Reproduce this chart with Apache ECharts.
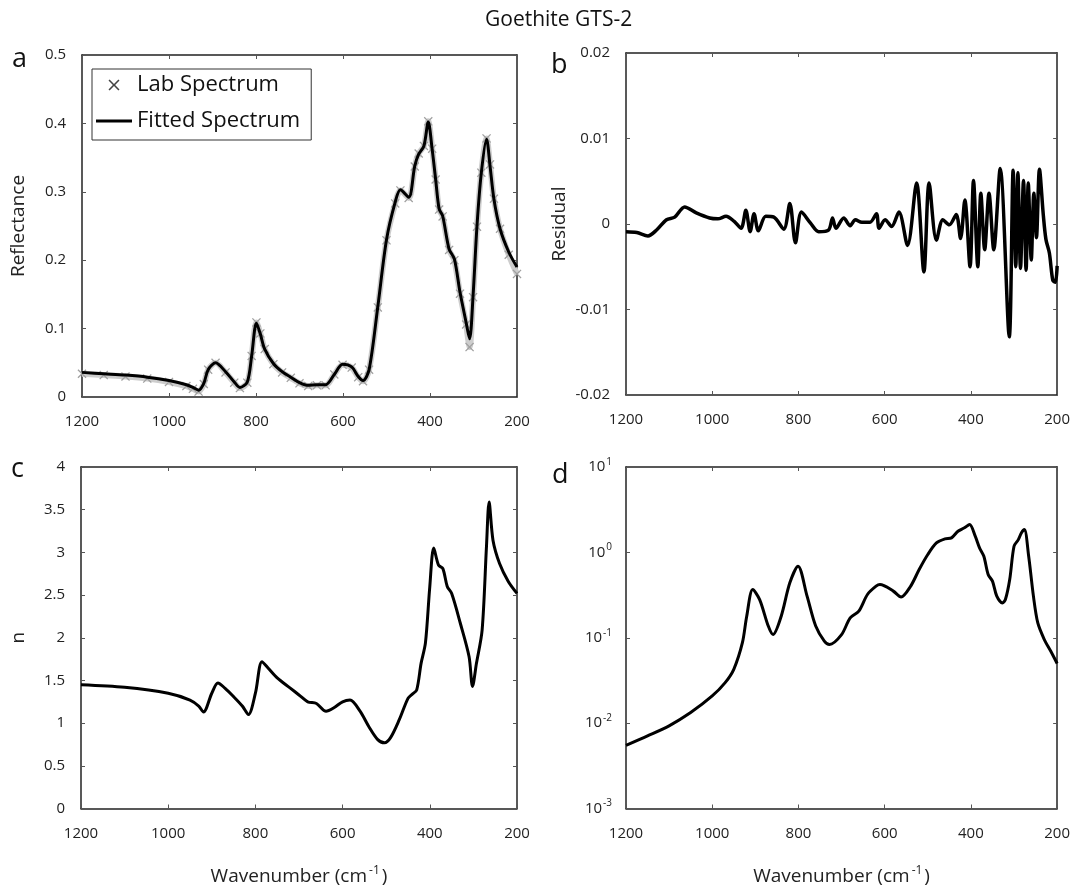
<!DOCTYPE html>
<html><head><meta charset="utf-8">
<script src="https://cdn.jsdelivr.net/npm/echarts@6/dist/echarts.min.js"></script>
<style>html,body{margin:0;padding:0;background:#fff}#c{width:1073px;height:887px}</style>
</head><body><div id="c"></div>
<script>
// ---------- data ----------
const chartTitle = 'Goethite GTS-2';
const panelLetters = ['a', 'b', 'c', 'd'];
const legendNames = ['Lab Spectrum', 'Fitted Spectrum'];

// panel a: reflectance
const waveA = [1200,1150,1100,1050,1000,960,945,932,920,910,893,870,850,837,820,810,799,790,780,760,740,720,700,680,660,640,620,601,580,565,554,540,520,500,480,468,449,435,426,414,404,395,387,379,371,356,344,331,317,309,301,292,282,270,262,253,239,219,200];
const reflFit = [0.036,0.034,0.032,0.029,0.024,0.018,0.014,0.010,0.020,0.040,0.050,0.037,0.022,0.014,0.022,0.060,0.108,0.092,0.070,0.049,0.037,0.029,0.021,0.017,0.018,0.018,0.033,0.048,0.044,0.030,0.024,0.040,0.132,0.230,0.285,0.303,0.292,0.338,0.355,0.367,0.402,0.362,0.318,0.275,0.265,0.216,0.202,0.153,0.109,0.085,0.148,0.250,0.328,0.377,0.338,0.289,0.246,0.212,0.190];
const reflLab = [0.034,0.032,0.030,0.027,0.022,0.016,0.012,0.008,0.019,0.040,0.050,0.036,0.021,0.013,0.021,0.060,0.109,0.093,0.070,0.048,0.036,0.028,0.020,0.016,0.017,0.017,0.033,0.047,0.043,0.029,0.023,0.040,0.131,0.229,0.283,0.302,0.291,0.337,0.356,0.367,0.403,0.363,0.318,0.274,0.264,0.215,0.200,0.151,0.106,0.073,0.146,0.249,0.328,0.378,0.340,0.290,0.246,0.208,0.180];

// panel b: residual
const waveR = [1200,1175,1149,1129,1106,1087,1064,1037,1006,987,968,949,933,922,912,903,893,876,857,834,820,807,793,772,753,730,721,713,695,680,668,653,634,619,613,599,584,567,547,526,509,497,480,465,450,434,424,414,402,394,384,377,368,358,347,332,311,302,296,291,285,278,272,267,260,254,248,241,232,226,218,210,204,200];
const resid = [-0.0009,-0.0010,-0.0014,-0.0007,0.0005,0.0008,0.0020,0.0013,0.0007,0.0006,0.0009,0.0003,-0.0005,0.0016,-0.0009,0.0012,-0.0008,0.0009,0.0008,-0.0006,0.0024,-0.0022,0.0014,0.0001,-0.0009,-0.0007,0.0007,-0.0005,0.0007,-0.0002,0.0005,0.0002,0.0002,0.0012,-0.0005,0.0005,-0.0003,0.0014,-0.0025,0.0048,-0.0056,0.0048,-0.0019,0.0005,-0.0001,0.0011,-0.0017,0.0028,-0.0050,0.0051,-0.0050,0.0036,-0.0030,0.0036,-0.0030,0.0065,-0.0132,0.0063,-0.0050,0.0060,-0.0052,0.0051,-0.0054,0.0048,-0.0042,0.0036,-0.0016,0.0064,0.0010,-0.0018,-0.0034,-0.0066,-0.0068,-0.0049];

// panel c: n
const waveN = [1200,1100,1000,950,930,919,900,886,870,850,830,816,800,785,770,750,720,700,680,660,638,620,600,583,560,540,520,504,490,470,450,440,430,420,410,400,391,380,370,360,350,330,310,302,293,280,270,264,255,240,220,200];
const nVals = [1.45,1.42,1.35,1.27,1.20,1.13,1.35,1.47,1.41,1.31,1.20,1.10,1.35,1.72,1.64,1.53,1.41,1.33,1.25,1.23,1.14,1.18,1.25,1.27,1.14,0.96,0.81,0.77,0.83,1.04,1.29,1.34,1.39,1.70,1.94,2.60,3.05,2.85,2.81,2.60,2.52,2.17,1.78,1.43,1.70,2.09,3.07,3.59,3.14,2.87,2.66,2.52];

// panel d: k (log)
const waveK = [1200,1150,1100,1050,1000,970,950,930,920,906,890,870,859,840,820,801,780,760,740,728,700,680,660,640,620,611,580,562,540,520,500,480,460,445,430,415,403,390,380,370,360,350,340,327,320,310,300,290,283,276,266,255,245,230,215,200];
const kVals = [0.0055,0.0071,0.0093,0.0133,0.0208,0.0298,0.0427,0.0875,0.179,0.367,0.28,0.137,0.109,0.179,0.44,0.689,0.307,0.137,0.0914,0.0835,0.109,0.171,0.205,0.321,0.402,0.42,0.352,0.30,0.40,0.63,0.944,1.29,1.44,1.48,1.77,1.94,2.12,1.55,1.13,0.90,0.55,0.46,0.307,0.256,0.28,0.48,1.18,1.41,1.69,1.85,0.90,0.307,0.15,0.096,0.070,0.050];

// axis ranges / tick labels
const xRange = {min: 200, max: 1200, interval: 200};
const yA = {min: 0, max: 0.5, interval: 0.1};
const yB = {min: -0.02, max: 0.02, interval: 0.01};
const yC = {min: 0, max: 4, interval: 0.5};
const yD = {min: 0.001, max: 10};
const yNames = ['Reflectance', 'Residual', 'n', ''];
const xName = 'Wavenumber (cm';
const xNameSup = '-1';

// ---------- chart ----------
const FONT = "'Open Sans', 'Noto Sans', sans-serif";
const pairs = (xs, ys) => xs.map((x, i) => [x, ys[i]]);
const X_PATH = 'path://M1,0L5,4L9,0L10,1L6,5L10,9L9,10L5,6L1,10L0,9L4,5L0,1Z';
const LINE_ICON = 'path://M0,0L36,0L36,3.2L0,3.2Z';

const grids = [
  {left: 82, top: 55, width: 435, height: 342},
  {left: 626, top: 53, width: 434, height: 342},
  {left: 81, top: 467, width: 436, height: 342},
  {left: 626, top: 467, width: 434, height: 342}
];
const yRanges = [yA, yB, yC, yD];
const yGaps = [54, 57, 53, 0];

const axisLine = {show: true, onZero: false, lineStyle: {color: '#222', width: 1.5}};
const tick = {show: true, inside: true, length: 4, lineStyle: {color: '#555', width: 1}};
const labelStyle = {fontFamily: FONT, fontSize: 15, color: '#222'};

const xAxes = [], yAxes = [];
grids.forEach((g, i) => {
  const xn = i >= 2 ? '{a|' + xName + '}{s|' + xNameSup + '}{a|)}' : '';
  xAxes.push({
    gridIndex: i, type: 'value', position: 'bottom', inverse: true,
    min: xRange.min, max: xRange.max, interval: xRange.interval,
    axisLine, axisTick: tick, splitLine: {show: false},
    axisLabel: Object.assign({margin: i >= 2 ? 18 : 17, formatter: v => String(v)}, labelStyle),
    name: xn, nameLocation: 'middle', nameGap: 56,
    nameTextStyle: {rich: {
      a: {fontFamily: FONT, fontSize: 19, color: '#222', lineHeight: 24},
      s: {fontFamily: FONT, fontSize: 12, color: '#222', verticalAlign: 'top', lineHeight: 24, padding: [0, 2, 0, 2]}
    }}
  });
  xAxes.push({
    gridIndex: i, type: 'value', position: 'top', inverse: true,
    min: xRange.min, max: xRange.max, interval: xRange.interval,
    axisLine, axisTick: tick, axisLabel: {show: false}, splitLine: {show: false}
  });
  const yr = yRanges[i];
  const isLog = i === 3;
  const base = {
    gridIndex: i, type: isLog ? 'log' : 'value', min: yr.min, max: yr.max,
    splitLine: {show: false}, axisLine, axisTick: tick
  };
  if (!isLog) base.interval = yr.interval; else base.logBase = 10;
  yAxes.push(Object.assign({}, base, {
    position: 'left',
    axisLabel: isLog ? {
      margin: 14,
      formatter: v => '{b|10}{e|' + Math.round(Math.log10(v)) + '}',
      rich: {
        b: {fontFamily: FONT, fontSize: 15, color: '#222', lineHeight: 20},
        e: {fontFamily: FONT, fontSize: 10, color: '#222', verticalAlign: 'top', lineHeight: 20, padding: [0, 0, 0, 1]}
      }
    } : Object.assign({margin: 16}, labelStyle),
    name: yNames[i], nameLocation: 'middle', nameGap: yGaps[i], nameRotate: 90,
    nameTextStyle: {fontFamily: FONT, fontSize: 19, color: '#222'}
  }));
  yAxes.push(Object.assign({}, base, {position: 'right', axisLabel: {show: false}}));
});

const option = {
  animation: false,
  backgroundColor: '#fff',
  title: [
    {text: chartTitle, left: 485, top: 10, padding: 0, textStyle: {fontFamily: FONT, fontSize: 21, fontWeight: 'normal', color: '#111'}},
    {text: panelLetters[0], left: 12, top: 46, padding: 0, textStyle: {fontFamily: FONT, fontSize: 27, fontWeight: 'normal', color: '#111'}},
    {text: panelLetters[1], left: 551, top: 52, padding: 0, textStyle: {fontFamily: FONT, fontSize: 27, fontWeight: 'normal', color: '#111'}},
    {text: panelLetters[2], left: 11, top: 456, padding: 0, textStyle: {fontFamily: FONT, fontSize: 27, fontWeight: 'normal', color: '#111'}},
    {text: panelLetters[3], left: 552, top: 462, padding: 0, textStyle: {fontFamily: FONT, fontSize: 27, fontWeight: 'normal', color: '#111'}}
  ],
  legend: {
    show: true, orient: 'vertical', left: 92, top: 69,
    data: [
      {name: legendNames[0], icon: X_PATH, itemStyle: {color: '#444'}},
      {name: legendNames[1], icon: LINE_ICON, itemStyle: {color: '#000'}}
    ],
    symbolKeepAspect: true,
    borderColor: '#333', borderWidth: 1, borderRadius: 0, padding: [5, 11, 8, 4],
    itemGap: 14, itemWidth: 36, itemHeight: 11, selectedMode: false,
    textStyle: {fontFamily: FONT, fontSize: 22, color: '#111'}
  },
  grid: grids,
  xAxis: xAxes,
  yAxis: yAxes,
  series: [
    {name: legendNames[0], type: 'line', xAxisIndex: 0, yAxisIndex: 0, data: pairs(waveA, reflLab),
      symbol: X_PATH, symbolSize: 9, showSymbol: true, showAllSymbol: true, smooth: 0.3,
      lineStyle: {width: 6, color: '#cdcdcd'}, itemStyle: {color: '#a0a0a0'}, z: 2, silent: true},
    {name: legendNames[1], type: 'line', xAxisIndex: 0, yAxisIndex: 0, data: pairs(waveA, reflFit),
      smooth: 0.3, symbol: 'none', showSymbol: false, lineStyle: {color: '#000', width: 3}, itemStyle: {color: '#000'}, z: 3, silent: true},
    {type: 'line', xAxisIndex: 2, yAxisIndex: 2, data: pairs(waveR, resid),
      smooth: 0.3, symbol: 'none', showSymbol: false, lineStyle: {color: '#000', width: 3.5}, z: 3, silent: true},
    {type: 'line', xAxisIndex: 4, yAxisIndex: 4, data: pairs(waveN, nVals),
      smooth: 0.3, symbol: 'none', showSymbol: false, lineStyle: {color: '#000', width: 3}, z: 3, silent: true},
    {type: 'line', xAxisIndex: 6, yAxisIndex: 6, data: pairs(waveK, kVals),
      smooth: 0.3, symbol: 'none', showSymbol: false, lineStyle: {color: '#000', width: 3}, z: 3, silent: true}
  ]
};
const chart = echarts.init(document.getElementById('c'), null, {renderer: 'canvas'});
chart.setOption(option);
</script>
</body></html>
